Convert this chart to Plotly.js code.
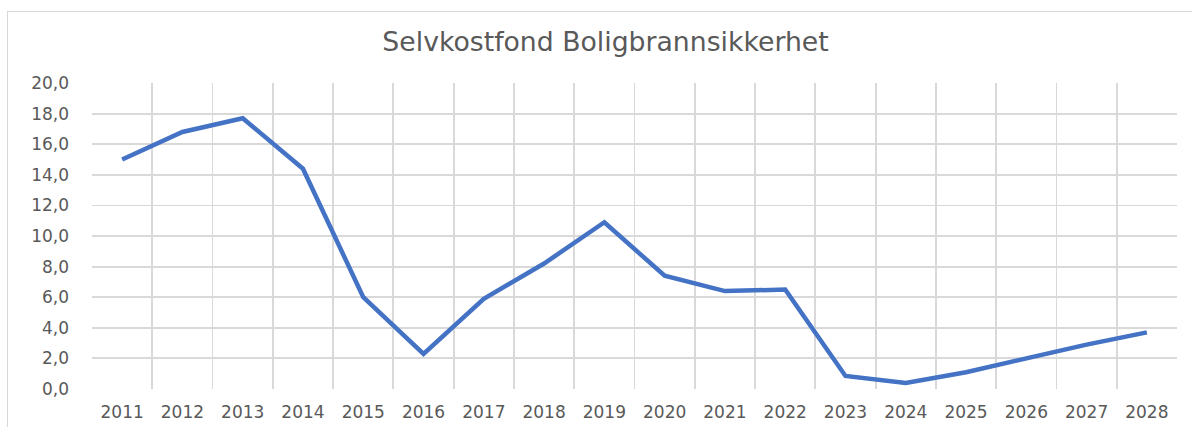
<!DOCTYPE html>
<html>
<head>
<meta charset="utf-8">
<script src="https://cdn.plot.ly/plotly-3.0.1.min.js"></script>
<style>
  html, body { margin: 0; padding: 0; background: #ffffff; }
  #wrap { position: relative; width: 1192px; height: 427px; overflow: hidden; }
  #frame { position: absolute; left: 7px; top: 11px; width: 1200px; height: 440px; border: 1px solid #d9d9d9; box-sizing: border-box; }
  #chart { position: absolute; left: 0; top: 0; width: 1192px; height: 427px; }
</style>
</head>
<body>
<div id="wrap">
  <div id="frame"></div>
  <div id="chart"></div>
</div>
<script>
const years = ["2011","2012","2013","2014","2015","2016","2017","2018","2019","2020","2021","2022","2023","2024","2025","2026","2027","2028"];
const fond = [15.0, 16.8, 17.7, 14.4, 6.0, 2.3, 5.9, 8.2, 10.9, 7.4, 6.4, 6.5, 0.85, 0.4, 1.1, 2.0, 2.9, 3.7];
const yTicks = [0, 2, 4, 6, 8, 10, 12, 14, 16, 18, 20];
const chartTitle = "Selvkostfond Boligbrannsikkerhet";

const trace = {
  type: "scatter",
  mode: "lines",
  x: years,
  y: fond,
  line: { color: "#4472C4", width: 4.5, shape: "linear" },
  hoverinfo: "x+y"
};

const layout = {
  width: 1192,
  height: 427,
  paper_bgcolor: "rgba(0,0,0,0)",
  plot_bgcolor: "rgba(0,0,0,0)",
  separators: ", ",
  margin: { l: 92, r: 15, t: 83, b: 38 },
  showlegend: false,
  title: {
    text: chartTitle,
    font: { family: "DejaVu Sans, sans-serif", size: 26.7, color: "#595959" },
    x: 0.508, xanchor: "center", xref: "container",
    y: 44, yref: "container", yanchor: "middle"
  },
  xaxis: {
    type: "category",
    range: [-0.5, years.length - 0.5],
    tickson: "boundaries",
    showgrid: true,
    gridcolor: "#d9d9d9",
    gridwidth: 1.8,
    zeroline: false,
    showline: false,
    ticks: "",
    ticklabelstandoff: 11,
    tickfont: { family: "DejaVu Sans, sans-serif", size: 17, color: "#595959" },
    fixedrange: true
  },
  yaxis: {
    range: [0, 20],
    tickvals: yTicks,
    tickformat: ".1f",
    showgrid: true,
    gridcolor: "#d9d9d9",
    gridwidth: 1.8,
    zeroline: false,
    showline: false,
    ticks: "",
    ticklabelstandoff: 22,
    tickfont: { family: "DejaVu Sans, sans-serif", size: 17, color: "#595959" },
    fixedrange: true
  }
};

Plotly.newPlot("chart", [trace], layout, { displayModeBar: false, staticPlot: true });
</script>
</body>
</html>
